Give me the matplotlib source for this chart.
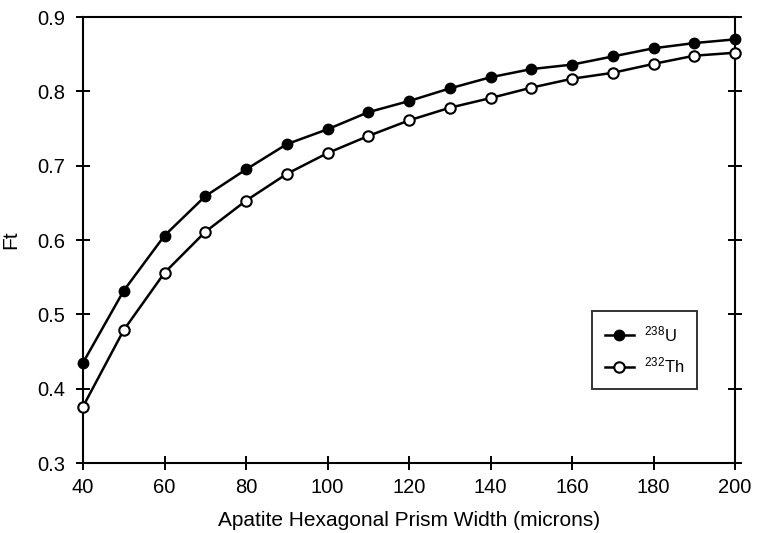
import matplotlib
matplotlib.use('Agg')
import matplotlib.pyplot as plt

plt.rcParams['font.family'] = ['Liberation Sans', 'DejaVu Sans']
plt.rcParams['mathtext.fontset'] = 'custom'
plt.rcParams['mathtext.rm'] = 'Liberation Sans'
plt.rcParams['mathtext.default'] = 'regular'

# prism width (microns) and alpha-ejection correction Ft
width = [40, 50, 60, 70, 80, 90, 100, 110, 120, 130, 140, 150, 160, 170, 180, 190, 200]
ft_u238 = [0.435, 0.532, 0.606, 0.659, 0.695, 0.729, 0.749, 0.772, 0.787, 0.804,
           0.819, 0.830, 0.836, 0.847, 0.858, 0.865, 0.870]
ft_th232 = [0.376, 0.479, 0.556, 0.611, 0.653, 0.689, 0.717, 0.740, 0.761, 0.778,
            0.791, 0.805, 0.817, 0.825, 0.837, 0.848, 0.852]

xticks = [40, 60, 80, 100, 120, 140, 160, 180, 200]
yticks = [0.3, 0.4, 0.5, 0.6, 0.7, 0.8, 0.9]

fig = plt.figure(figsize=(7.57, 5.33), dpi=100)
ax = fig.add_axes([0.1097, 0.1313, 0.8613, 0.8367])

ax.plot(width, ft_u238, color='black', lw=1.8, marker='o', ms=7.5,
        mfc='black', mec='black', label=r'$^{238}$U', clip_on=False, zorder=3)
ax.plot(width, ft_th232, color='black', lw=1.8, marker='o', ms=7.5,
        mfc='white', mec='black', mew=1.5, label=r'$^{232}$Th', clip_on=False, zorder=3)

ax.set_xlim(40, 200)
ax.set_ylim(0.3, 0.9)
ax.set_xticks(xticks)
ax.set_yticks(yticks)
ax.set_yticklabels(['%.1f' % v for v in yticks])

for s in ax.spines.values():
    s.set_linewidth(1.5)
ax.tick_params(axis='both', direction='inout', length=10, width=1.4, labelsize=14.5)
ax.tick_params(axis='x', pad=6)
ax.tick_params(axis='y', right=True, pad=8)

ax.set_xlabel('Apatite Hexagonal Prism Width (microns)', fontsize=15, labelpad=10)
ax.set_ylabel('Ft', fontsize=15, labelpad=12)

leg = ax.legend(loc='lower right', bbox_to_anchor=(0.942, 0.166), fontsize=12,
                fancybox=False, frameon=True, edgecolor='black',
                handlelength=1.7, handletextpad=0.6, borderpad=0.8, labelspacing=0.7,
                borderaxespad=0)
leg.get_frame().set_linewidth(1.4)

fig.savefig('out.png', dpi=100)
